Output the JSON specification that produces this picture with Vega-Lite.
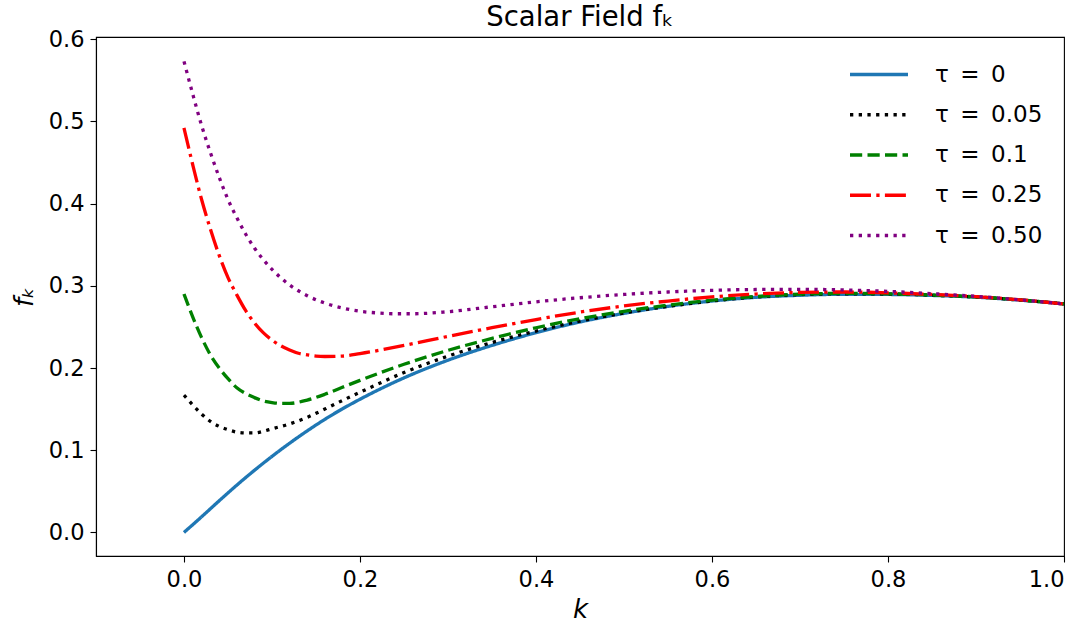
{
  "$schema": "https://vega.github.io/schema/vega-lite/v6.json",
  "width": 968,
  "height": 519,
  "autosize": {"type": "none"},
  "padding": {"left": 96, "top": 37, "right": 22, "bottom": 68},
  "background": "white",
  "config": {
    "font": "DejaVu Sans",
    "view": {"stroke": "black", "strokeWidth": 1.1},
    "axis": {"grid": false, "domainColor": "black", "tickColor": "black", "labelColor": "black", "titleColor": "black", "labelFont": "DejaVu Sans", "titleFont": "DejaVu Sans", "labelFontSize": 22.5, "titleFontSize": 26, "titleFontWeight": "normal", "titleFontStyle": "italic", "tickSize": 6, "labelPadding": 6, "domainWidth": 1.1, "tickWidth": 1.1}
  },
  "title": {"text": "Scalar Field fₖ", "font": "DejaVu Sans", "fontSize": 27.5, "fontWeight": "normal", "color": "black", "anchor": "middle", "offset": -3},
  "data": {"values": [
    {"s":"τ = 0","k":0,"f":0},{"s":"τ = 0","k":0.02,"f":0.019},{"s":"τ = 0","k":0.04,"f":0.0385},{"s":"τ = 0","k":0.06,"f":0.0575},{"s":"τ = 0","k":0.08,"f":0.0755},{"s":"τ = 0","k":0.1,"f":0.0925},{"s":"τ = 0","k":0.12,"f":0.1085},{"s":"τ = 0","k":0.14,"f":0.1235},{"s":"τ = 0","k":0.16,"f":0.1375},{"s":"τ = 0","k":0.18,"f":0.1503},{"s":"τ = 0","k":0.2,"f":0.162},{"s":"τ = 0","k":0.25,"f":0.188},{"s":"τ = 0","k":0.3,"f":0.2095},{"s":"τ = 0","k":0.35,"f":0.2275},{"s":"τ = 0","k":0.4,"f":0.243},{"s":"τ = 0","k":0.45,"f":0.256},{"s":"τ = 0","k":0.5,"f":0.2665},{"s":"τ = 0","k":0.55,"f":0.275},{"s":"τ = 0","k":0.6,"f":0.2815},{"s":"τ = 0","k":0.65,"f":0.286},{"s":"τ = 0","k":0.7,"f":0.2885},{"s":"τ = 0","k":0.75,"f":0.2897},{"s":"τ = 0","k":0.8,"f":0.2895},{"s":"τ = 0","k":0.85,"f":0.2883},{"s":"τ = 0","k":0.9,"f":0.2862},{"s":"τ = 0","k":0.95,"f":0.2826},{"s":"τ = 0","k":1,"f":0.278},
    {"s":"τ = 0.05","k":0,"f":0.167},{"s":"τ = 0.05","k":0.01,"f":0.155},{"s":"τ = 0.05","k":0.02,"f":0.144},{"s":"τ = 0.05","k":0.03,"f":0.135},{"s":"τ = 0.05","k":0.04,"f":0.129},{"s":"τ = 0.05","k":0.05,"f":0.125},{"s":"τ = 0.05","k":0.06,"f":0.122},{"s":"τ = 0.05","k":0.07,"f":0.121},{"s":"τ = 0.05","k":0.08,"f":0.121},{"s":"τ = 0.05","k":0.09,"f":0.123},{"s":"τ = 0.05","k":0.1,"f":0.126},{"s":"τ = 0.05","k":0.12,"f":0.132},{"s":"τ = 0.05","k":0.14,"f":0.14},{"s":"τ = 0.05","k":0.16,"f":0.15},{"s":"τ = 0.05","k":0.18,"f":0.1605},{"s":"τ = 0.05","k":0.2,"f":0.1705},{"s":"τ = 0.05","k":0.25,"f":0.1945},{"s":"τ = 0.05","k":0.3,"f":0.2145},{"s":"τ = 0.05","k":0.35,"f":0.231},{"s":"τ = 0.05","k":0.4,"f":0.245},{"s":"τ = 0.05","k":0.45,"f":0.257},{"s":"τ = 0.05","k":0.5,"f":0.267},{"s":"τ = 0.05","k":0.55,"f":0.275},{"s":"τ = 0.05","k":0.6,"f":0.2815},{"s":"τ = 0.05","k":0.65,"f":0.2865},{"s":"τ = 0.05","k":0.7,"f":0.2893},{"s":"τ = 0.05","k":0.75,"f":0.2903},{"s":"τ = 0.05","k":0.8,"f":0.29},{"s":"τ = 0.05","k":0.85,"f":0.2886},{"s":"τ = 0.05","k":0.9,"f":0.2864},{"s":"τ = 0.05","k":0.95,"f":0.2827},{"s":"τ = 0.05","k":1,"f":0.278},
    {"s":"τ = 0.1","k":0,"f":0.29},{"s":"τ = 0.1","k":0.01,"f":0.262},{"s":"τ = 0.1","k":0.02,"f":0.237},{"s":"τ = 0.1","k":0.03,"f":0.216},{"s":"τ = 0.1","k":0.04,"f":0.2},{"s":"τ = 0.1","k":0.05,"f":0.187},{"s":"τ = 0.1","k":0.06,"f":0.176},{"s":"τ = 0.1","k":0.07,"f":0.169},{"s":"τ = 0.1","k":0.08,"f":0.164},{"s":"τ = 0.1","k":0.09,"f":0.16},{"s":"τ = 0.1","k":0.1,"f":0.158},{"s":"τ = 0.1","k":0.11,"f":0.157},{"s":"τ = 0.1","k":0.12,"f":0.157},{"s":"τ = 0.1","k":0.14,"f":0.161},{"s":"τ = 0.1","k":0.16,"f":0.168},{"s":"τ = 0.1","k":0.18,"f":0.1765},{"s":"τ = 0.1","k":0.2,"f":0.185},{"s":"τ = 0.1","k":0.25,"f":0.2045},{"s":"τ = 0.1","k":0.3,"f":0.2215},{"s":"τ = 0.1","k":0.35,"f":0.236},{"s":"τ = 0.1","k":0.4,"f":0.249},{"s":"τ = 0.1","k":0.45,"f":0.26},{"s":"τ = 0.1","k":0.5,"f":0.269},{"s":"τ = 0.1","k":0.55,"f":0.2765},{"s":"τ = 0.1","k":0.6,"f":0.2825},{"s":"τ = 0.1","k":0.65,"f":0.287},{"s":"τ = 0.1","k":0.7,"f":0.2898},{"s":"τ = 0.1","k":0.75,"f":0.2908},{"s":"τ = 0.1","k":0.8,"f":0.2903},{"s":"τ = 0.1","k":0.85,"f":0.2888},{"s":"τ = 0.1","k":0.9,"f":0.2865},{"s":"τ = 0.1","k":0.95,"f":0.2828},{"s":"τ = 0.1","k":1,"f":0.278},
    {"s":"τ = 0.25","k":0,"f":0.492},{"s":"τ = 0.25","k":0.01,"f":0.447},{"s":"τ = 0.25","k":0.02,"f":0.405},{"s":"τ = 0.25","k":0.03,"f":0.369},{"s":"τ = 0.25","k":0.04,"f":0.337},{"s":"τ = 0.25","k":0.05,"f":0.31},{"s":"τ = 0.25","k":0.06,"f":0.289},{"s":"τ = 0.25","k":0.07,"f":0.27},{"s":"τ = 0.25","k":0.08,"f":0.255},{"s":"τ = 0.25","k":0.09,"f":0.243},{"s":"τ = 0.25","k":0.1,"f":0.234},{"s":"τ = 0.25","k":0.11,"f":0.227},{"s":"τ = 0.25","k":0.12,"f":0.222},{"s":"τ = 0.25","k":0.13,"f":0.218},{"s":"τ = 0.25","k":0.14,"f":0.216},{"s":"τ = 0.25","k":0.15,"f":0.2145},{"s":"τ = 0.25","k":0.16,"f":0.214},{"s":"τ = 0.25","k":0.18,"f":0.2145},{"s":"τ = 0.25","k":0.2,"f":0.2175},{"s":"τ = 0.25","k":0.25,"f":0.2275},{"s":"τ = 0.25","k":0.3,"f":0.2385},{"s":"τ = 0.25","k":0.35,"f":0.249},{"s":"τ = 0.25","k":0.4,"f":0.259},{"s":"τ = 0.25","k":0.45,"f":0.268},{"s":"τ = 0.25","k":0.5,"f":0.2755},{"s":"τ = 0.25","k":0.55,"f":0.2815},{"s":"τ = 0.25","k":0.6,"f":0.2865},{"s":"τ = 0.25","k":0.65,"f":0.29},{"s":"τ = 0.25","k":0.7,"f":0.292},{"s":"τ = 0.25","k":0.75,"f":0.2925},{"s":"τ = 0.25","k":0.8,"f":0.2915},{"s":"τ = 0.25","k":0.85,"f":0.2895},{"s":"τ = 0.25","k":0.9,"f":0.2868},{"s":"τ = 0.25","k":0.95,"f":0.283},{"s":"τ = 0.25","k":1,"f":0.278},
    {"s":"τ = 0.50","k":0,"f":0.573},{"s":"τ = 0.50","k":0.01,"f":0.533},{"s":"τ = 0.50","k":0.02,"f":0.495},{"s":"τ = 0.50","k":0.03,"f":0.462},{"s":"τ = 0.50","k":0.04,"f":0.432},{"s":"τ = 0.50","k":0.05,"f":0.405},{"s":"τ = 0.50","k":0.06,"f":0.383},{"s":"τ = 0.50","k":0.07,"f":0.363},{"s":"τ = 0.50","k":0.08,"f":0.346},{"s":"τ = 0.50","k":0.09,"f":0.332},{"s":"τ = 0.50","k":0.1,"f":0.32},{"s":"τ = 0.50","k":0.12,"f":0.301},{"s":"τ = 0.50","k":0.14,"f":0.288},{"s":"τ = 0.50","k":0.16,"f":0.279},{"s":"τ = 0.50","k":0.18,"f":0.273},{"s":"τ = 0.50","k":0.2,"f":0.269},{"s":"τ = 0.50","k":0.22,"f":0.267},{"s":"τ = 0.50","k":0.24,"f":0.266},{"s":"τ = 0.50","k":0.26,"f":0.266},{"s":"τ = 0.50","k":0.3,"f":0.2685},{"s":"τ = 0.50","k":0.35,"f":0.2745},{"s":"τ = 0.50","k":0.4,"f":0.2805},{"s":"τ = 0.50","k":0.45,"f":0.2855},{"s":"τ = 0.50","k":0.5,"f":0.2895},{"s":"τ = 0.50","k":0.55,"f":0.2925},{"s":"τ = 0.50","k":0.6,"f":0.2945},{"s":"τ = 0.50","k":0.65,"f":0.2955},{"s":"τ = 0.50","k":0.7,"f":0.2957},{"s":"τ = 0.50","k":0.75,"f":0.295},{"s":"τ = 0.50","k":0.8,"f":0.2932},{"s":"τ = 0.50","k":0.85,"f":0.2905},{"s":"τ = 0.50","k":0.9,"f":0.2872},{"s":"τ = 0.50","k":0.95,"f":0.283},{"s":"τ = 0.50","k":1,"f":0.278}
  ]},
  "mark": {"type": "line", "interpolate": "monotone", "strokeWidth": 3.3, "clip": true},
  "encoding": {
    "x": {"field": "k", "type": "quantitative", "title": "k",
      "scale": {"domain": [-0.1, 1.0], "nice": false, "zero": false},
      "axis": {"values": [0, 0.2, 0.4, 0.6, 0.8, 1.0], "format": ".1f", "titlePadding": 6}},
    "y": {"field": "f", "type": "quantitative", "title": "fₖ",
      "scale": {"domain": [-0.0287, 0.6027], "nice": false, "zero": false},
      "axis": {"values": [0, 0.1, 0.2, 0.3, 0.4, 0.5, 0.6], "format": ".1f", "titlePadding": 11}},
    "color": {"field": "s", "type": "nominal",
      "scale": {"domain": ["τ = 0", "τ = 0.05", "τ = 0.1", "τ = 0.25", "τ = 0.50"], "range": ["#1f77b4", "black", "#008000", "#ff0000", "#800080"]},
      "legend": {"title": null, "orient": "none", "legendX": 766.5, "legendY": 21, "padding": 0, "symbolType": "M-2,0H2", "symbolSize": 841, "symbolStrokeWidth": 3.3, "labelFontSize": 23, "labelFont": "DejaVu Sans", "labelColor": "black", "labelOffset": 39.5, "rowPadding": 11.25, "symbolLimit": 0, "labelExpr": "replace(datum.label, ' = ', '\u2002=\u2002')"}},
    "strokeDash": {"field": "s", "type": "nominal",
      "scale": {"domain": ["τ = 0", "τ = 0.05", "τ = 0.1", "τ = 0.25", "τ = 0.50"], "range": [[1, 0], [3.3, 5.4], [12.2, 5.3], [21, 5.3, 3.3, 5.3], [3.3, 5.4]]},
      "legend": {"title": null, "orient": "none", "legendX": 766.5, "legendY": 21, "padding": 0, "symbolType": "M-2,0H2", "symbolSize": 841, "symbolStrokeWidth": 3.3, "labelFontSize": 23, "labelFont": "DejaVu Sans", "labelColor": "black", "labelOffset": 39.5, "rowPadding": 11.25, "symbolLimit": 0, "labelExpr": "replace(datum.label, ' = ', '\u2002=\u2002')"}}
  }
}
